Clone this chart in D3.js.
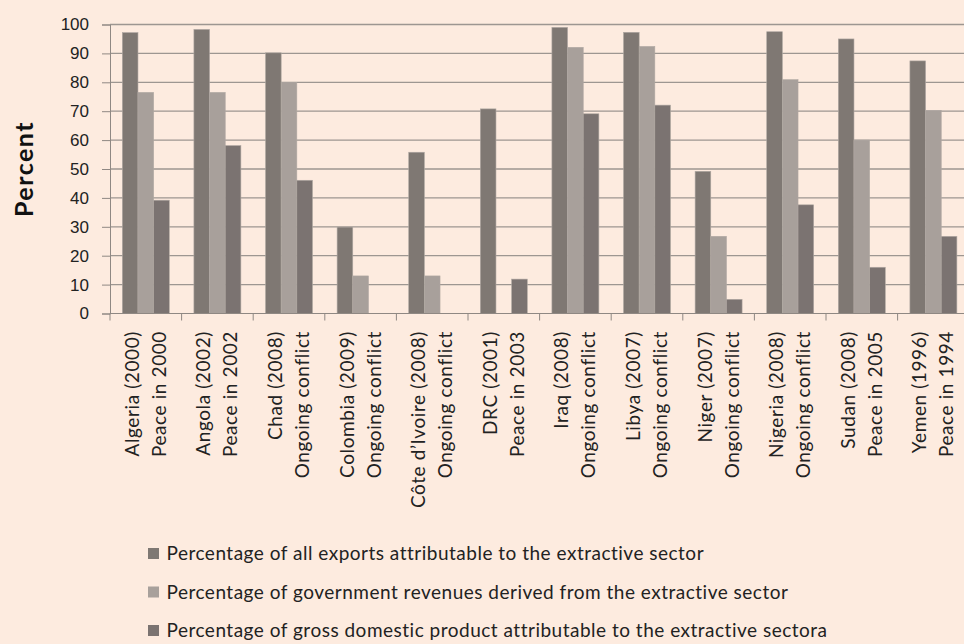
<!DOCTYPE html>
<html>
<head>
<meta charset="utf-8">
<script src="https://cdn.jsdelivr.net/npm/d3@7"></script>
<style>
  body { margin: 0; background: #fdebdf; }
  svg { display: block; font-family: Lato, "Open Sans", sans-serif; }
</style>
</head>
<body>
<div id="chart"></div>
<script>
// categories, two lines each
const countries = ["Algeria (2000)", "Angola (2002)", "Chad (2008)", "Colombia (2009)", "Côte d’Ivoire (2008)", "DRC (2001)",
  "Iraq (2008)", "Libya (2007)", "Niger (2007)", "Nigeria (2008)", "Sudan (2008)", "Yemen (1996)"];
const status = ["Peace in 2000", "Peace in 2002", "Ongoing conflict", "Ongoing conflict", "Ongoing conflict", "Peace in 2003",
  "Ongoing conflict", "Ongoing conflict", "Ongoing conflict", "Ongoing conflict", "Peace in 2005", "Peace in 1994"];

const seriesNames = [
  "Percentage of all exports attributable to the extractive sector",
  "Percentage of government revenues derived from the extractive sector",
  "Percentage of gross domestic product attributable to the extractive sectora"
];
const exportsPct = [97.2, 98.3, 90.2, 29.9, 55.8, 70.8, 99.0, 97.3, 49.2, 97.5, 95.0, 87.4];
const revenuePct = [76.5, 76.5, 79.9, 13.0, 13.0, null, 92.1, 92.4, 26.7, 80.9, 60.0, 70.3];
const gdpPct = [39.2, 58.1, 46.1, null, null, 11.9, 69.1, 72.1, 4.9, 37.6, 16.0, 26.7];
const yTicks = [0, 10, 20, 30, 40, 50, 60, 70, 80, 90, 100];

const colors = ["#7f7873", "#a8a09b", "#7b7371"];

const width = 964, height = 644;
const plotLeft = 110, plotTop = 24.5, plotBottom = 313.5, step = 71.6;

const svg = d3.select("#chart").append("svg")
  .attr("width", width).attr("height", height);

const x0 = d3.scaleBand().domain(countries)
  .range([plotLeft, plotLeft + step * countries.length])
  .paddingInner(0.344).paddingOuter(0.172);
const x1 = d3.scaleBand().domain([0, 1, 2]).range([0, x0.bandwidth()]);
const y = d3.scaleLinear().domain([0, 100]).range([plotBottom, plotTop]);

// gridlines
svg.append("g").selectAll("line").data(yTicks.slice(1)).join("line")
  .attr("x1", plotLeft).attr("x2", width)
  .attr("y1", d => y(d)).attr("y2", d => y(d))
  .attr("stroke", "#9d9691").attr("stroke-width", 1.3);

// bars
const rows = countries.map((c, i) => ({ c, v: [exportsPct[i], revenuePct[i], gdpPct[i]] }));
svg.append("g").selectAll("g").data(rows).join("g")
  .attr("transform", d => `translate(${x0(d.c)},0)`)
  .selectAll("rect").data(d => d.v.map((v, k) => ({ v, k })).filter(e => e.v != null)).join("rect")
  .attr("x", d => x1(d.k)).attr("width", x1.bandwidth())
  .attr("y", d => y(d.v)).attr("height", d => y(0) - y(d.v))
  .attr("fill", d => colors[d.k])
  .attr("stroke", "#b0a8a2").attr("stroke-width", 0.6);

// y axis
const yAxis = svg.append("g").attr("transform", `translate(${plotLeft},0)`)
  .call(d3.axisLeft(y).tickValues(yTicks).tickSize(8).tickPadding(13));
yAxis.selectAll("line, path").attr("stroke", "#8f8883");
yAxis.selectAll("text").attr("font-size", 17).attr("fill", "#222");

// x axis: category boundaries
const xAxis = svg.append("g").attr("transform", `translate(0,${plotBottom})`);
xAxis.append("line").attr("x1", plotLeft).attr("x2", width).attr("stroke", "#8f8883");
xAxis.selectAll(".tk").data(d3.range(countries.length + 1)).join("line")
  .attr("class", "tk")
  .attr("x1", i => x0.range()[0] + i * x0.step()).attr("x2", i => x0.range()[0] + i * x0.step())
  .attr("y1", 0).attr("y2", 7).attr("stroke", "#8f8883");

// x labels, rotated
const lab = svg.append("g").selectAll("g").data(countries).join("g")
  .attr("transform", d => `translate(${x0(d) + x0.bandwidth() / 2},331) rotate(-90)`);
lab.append("text").attr("x", 0).attr("y", -7).attr("text-anchor", "end")
  .attr("font-size", 19).attr("letter-spacing", 0.6).attr("fill", "#222").text(d => d);
lab.append("text").attr("x", 0).attr("y", 20).attr("text-anchor", "end")
  .attr("font-size", 19).attr("letter-spacing", 0.6).attr("fill", "#222").text((d, i) => status[i]);

// y label
svg.append("text").attr("transform", "translate(33,169) rotate(-90)")
  .attr("text-anchor", "middle").attr("font-size", 25).attr("font-weight", "bold")
  .attr("letter-spacing", 1.5).attr("fill", "#111").text("Percent");

// legend
const leg = svg.append("g").selectAll("g").data(seriesNames).join("g")
  .attr("transform", (d, i) => `translate(148,${553.5 + i * 38.5})`);
leg.append("rect").attr("x", 0).attr("y", -5.5).attr("width", 11).attr("height", 11)
  .attr("fill", (d, i) => colors[i]);
leg.append("text").attr("x", 18.5).attr("y", 0).attr("dy", "0.35em")
  .attr("font-size", 19).attr("letter-spacing", 0.5).attr("fill", "#222").text(d => d);
</script>
</body>
</html>
